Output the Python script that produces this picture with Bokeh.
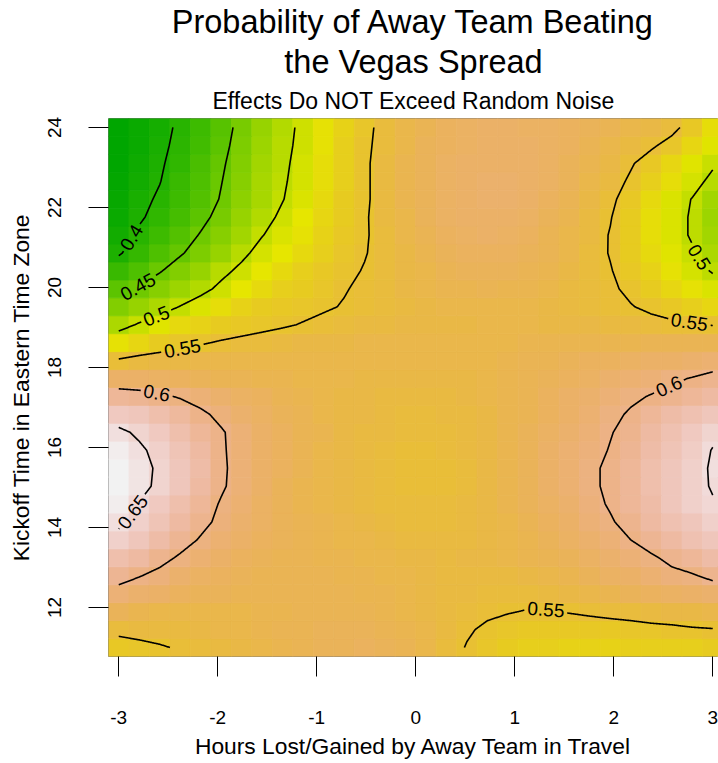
import math
import colorsys
import numpy as np
import contourpy
from bokeh.plotting import figure
from bokeh.models import Range1d, FixedTicker, Title, ColumnDataSource, LinearColorMapper
from bokeh.core.properties import value
from bokeh.embed import file_html
from bokeh.resources import INLINE

# ---------------- data ----------------
title_line1 = "Probability of Away Team Beating"
title_line2 = "the Vegas Spread"
subtitle = "Effects Do NOT Exceed Random Noise"
x_label = "Hours Lost/Gained by Away Team in Travel"
y_label = "Kickoff Time in Eastern Time Zone"

x_ticks = [-3, -2, -1, 0, 1, 2, 3]
x_tick_labels = ["-3", "-2", "-1", "0", "1", "2", "3"]
y_ticks = [12, 14, 16, 18, 20, 22, 24]
y_tick_labels = ["12", "14", "16", "18", "20", "22", "24"]

# grid: hours lost/gained (columns) and kickoff time (rows)
x_hours = [-3.0, -2.7931, -2.5862, -2.3793, -2.1724, -1.9655, -1.7586, -1.5517, -1.3448, -1.1379,
           -0.9310, -0.7241, -0.5172, -0.3103, -0.1034, 0.1034, 0.3103, 0.5172, 0.7241, 0.9310,
           1.1379, 1.3448, 1.5517, 1.7586, 1.9655, 2.1724, 2.3793, 2.5862, 2.7931, 3.0]
y_kickoff = [11.0, 11.4483, 11.8966, 12.3448, 12.7931, 13.2414, 13.6897, 14.1379, 14.5862, 15.0345,
             15.4828, 15.9310, 16.3793, 16.8276, 17.2759, 17.7241, 18.1724, 18.6207, 19.0690, 19.5172,
             19.9655, 20.4138, 20.8621, 21.3103, 21.7586, 22.2069, 22.6552, 23.1034, 23.5517, 24.0]

# probability (x1000); first row = 11:00 kickoff, columns follow x_hours
prob_rows = [
    [540, 544, 548, 552, 556, 559, 562, 565, 568, 571, 573, 575, 576, 575, 571, 565, 557, 549, 543, 539, 536, 534, 533, 533, 533, 534, 534, 535, 536, 537],
    [556, 558, 559, 560, 562, 564, 566, 568, 570, 572, 573, 574, 574, 572, 569, 564, 558, 552, 547, 543, 541, 540, 540, 541, 542, 543, 545, 546, 548, 549],
    [573, 569, 566, 564, 564, 565, 566, 568, 569, 571, 572, 572, 571, 569, 566, 562, 559, 555, 553, 551, 549, 549, 551, 553, 555, 557, 559, 561, 563, 566],
    [591, 587, 582, 578, 575, 573, 572, 571, 571, 571, 571, 570, 569, 567, 565, 562, 560, 558, 556, 556, 556, 558, 561, 565, 569, 573, 577, 581, 584, 587],
    [609, 601, 594, 587, 581, 577, 574, 572, 571, 570, 570, 569, 568, 566, 564, 562, 560, 559, 559, 560, 562, 565, 569, 574, 579, 584, 590, 595, 598, 605],
    [625, 617, 607, 597, 589, 583, 578, 575, 572, 570, 569, 568, 566, 564, 562, 561, 560, 561, 562, 564, 567, 571, 575, 580, 585, 591, 597, 605, 613, 620],
    [642, 632, 621, 609, 598, 589, 582, 577, 573, 570, 568, 566, 564, 562, 560, 559, 559, 560, 562, 565, 569, 574, 580, 587, 593, 600, 609, 618, 626, 633],
    [655, 642, 630, 618, 606, 595, 586, 579, 574, 570, 567, 564, 561, 559, 557, 557, 557, 559, 562, 566, 571, 577, 584, 591, 598, 607, 617, 626, 634, 641],
    [663, 649, 637, 625, 611, 598, 588, 580, 574, 569, 565, 562, 559, 557, 555, 555, 556, 558, 562, 567, 573, 580, 587, 594, 602, 612, 622, 632, 641, 648],
    [667, 657, 645, 632, 619, 603, 591, 582, 575, 569, 565, 561, 558, 555, 553, 553, 554, 557, 562, 568, 575, 583, 590, 596, 604, 613, 623, 633, 642, 652],
    [667, 658, 646, 633, 620, 604, 591, 583, 576, 570, 565, 561, 558, 555, 553, 553, 554, 557, 562, 568, 575, 583, 590, 596, 604, 613, 623, 633, 641, 653],
    [663, 654, 643, 630, 617, 603, 591, 583, 576, 570, 565, 561, 558, 556, 554, 554, 555, 558, 562, 568, 575, 582, 588, 594, 601, 610, 620, 630, 640, 651],
    [655, 646, 636, 625, 613, 602, 592, 584, 577, 572, 567, 563, 560, 558, 556, 556, 557, 559, 563, 568, 574, 580, 587, 593, 599, 606, 617, 628, 636, 645],
    [637, 632, 624, 615, 604, 595, 587, 580, 575, 570, 566, 563, 561, 559, 557, 557, 558, 560, 563, 567, 572, 578, 584, 590, 596, 602, 611, 620, 628, 634],
    [612, 609, 604, 598, 592, 586, 581, 576, 572, 568, 565, 563, 561, 560, 559, 559, 560, 562, 565, 568, 572, 577, 582, 587, 592, 597, 601, 605, 612, 619],
    [584, 583, 580, 577, 574, 572, 570, 568, 567, 566, 565, 564, 563, 562, 561, 561, 562, 563, 565, 567, 570, 573, 577, 581, 585, 589, 593, 597, 601, 606],
    [553, 558, 561, 563, 564, 565, 565, 566, 566, 566, 566, 566, 565, 565, 564, 564, 564, 565, 566, 568, 570, 572, 574, 576, 578, 580, 582, 584, 587, 590],
    [520, 530, 537, 543, 548, 552, 555, 557, 559, 561, 562, 563, 564, 564, 564, 564, 564, 564, 565, 566, 567, 567, 568, 568, 568, 569, 570, 570, 571, 571],
    [489, 503, 515, 525, 532, 537, 541, 545, 548, 551, 554, 556, 558, 560, 561, 562, 563, 563, 564, 564, 564, 563, 562, 561, 560, 558, 556, 554, 552, 549],
    [464, 476, 488, 501, 513, 523, 531, 537, 541, 545, 548, 551, 554, 557, 560, 562, 564, 565, 566, 565, 564, 562, 560, 557, 554, 551, 546, 540, 535, 530],
    [441, 453, 466, 479, 492, 506, 518, 527, 534, 539, 543, 549, 553, 557, 561, 564, 567, 569, 570, 569, 567, 564, 560, 556, 553, 546, 538, 530, 521, 512],
    [417, 433, 448, 463, 477, 493, 506, 518, 527, 534, 540, 546, 551, 556, 561, 566, 570, 573, 574, 573, 571, 567, 562, 557, 551, 542, 532, 521, 510, 498],
    [397, 414, 431, 447, 462, 477, 494, 509, 518, 527, 535, 543, 549, 556, 563, 569, 574, 577, 578, 578, 575, 570, 564, 557, 549, 538, 526, 514, 503, 487],
    [388, 405, 421, 436, 452, 467, 482, 499, 511, 521, 531, 540, 548, 557, 565, 572, 577, 580, 582, 581, 578, 572, 566, 558, 549, 537, 524, 511, 497, 481],
    [382, 396, 410, 425, 442, 459, 475, 491, 505, 517, 528, 538, 548, 558, 566, 574, 579, 582, 584, 584, 581, 575, 568, 560, 551, 537, 524, 511, 497, 479],
    [378, 392, 404, 419, 435, 452, 470, 486, 499, 513, 525, 537, 547, 558, 567, 575, 580, 584, 585, 585, 583, 578, 571, 562, 554, 541, 527, 513, 499, 483],
    [375, 386, 399, 416, 433, 449, 467, 484, 497, 510, 523, 535, 547, 558, 567, 575, 580, 583, 585, 585, 583, 579, 574, 566, 558, 547, 536, 523, 510, 493],
    [373, 383, 396, 412, 429, 446, 464, 481, 495, 509, 522, 535, 547, 558, 567, 574, 579, 582, 584, 584, 582, 579, 575, 569, 562, 552, 541, 529, 516, 504],
    [372, 381, 393, 408, 424, 442, 461, 478, 493, 507, 521, 534, 546, 557, 566, 573, 578, 581, 583, 583, 582, 580, 577, 572, 566, 560, 553, 543, 530, 514],
    [371, 380, 391, 405, 421, 439, 458, 475, 491, 506, 520, 533, 545, 556, 565, 572, 577, 580, 582, 582, 581, 579, 577, 574, 570, 566, 563, 556, 541, 523],
]

contour_levels = [0.40, 0.45, 0.50, 0.55, 0.60, 0.65]
# (label text, level, approximate spot on the line: hours, kickoff)
contour_label_spots = [
    ("0.4", 0.40, -2.859, 21.22),
    ("0.45", 0.45, -2.798, 19.97),
    ("0.5", 0.50, -2.606, 19.19),
    ("0.55", 0.55, -2.354, 18.42),
    ("0.6", 0.60, -2.616, 17.32),
    ("0.65", 0.65, -2.859, 14.38),
    ("0.55", 0.55, 1.313, 11.88),
    ("0.6", 0.60, 2.576, 17.45),
    ("0.55", 0.55, 2.758, 19.09),
    ("0.5", 0.50, 2.859, 20.74),
]

# ---------------- layout ----------------
FONT = "Liberation Sans"
W, H = 718, 763
MBL, MBR, MBT, MBB = 108, 0, 117, 107
PX_PER_HOUR = 99.0
LABEL_FS = 19.0

dx = x_hours[1] - x_hours[0]
dy = y_kickoff[1] - y_kickoff[0]
x_start = x_hours[0] - dx / 2
fw = W - MBL - MBR
fh = H - MBT - MBB
x_end = x_start + fw / PX_PER_HOUR
y_start = y_kickoff[0] - dy / 2
y_end = y_kickoff[-1] + dy / 2
sx = fw / (x_end - x_start)
sy = fh / (y_end - y_start)


def terrain_colors(n):
    k = n // 2
    cols = []
    h1 = np.linspace(4 / 12, 2 / 12, k)
    v1 = np.linspace(0.65, 0.9, k)
    for h, v in zip(h1, v1):
        cols.append(colorsys.hsv_to_rgb(h, 1.0, v))
    m = n - k + 1
    h2 = np.linspace(2 / 12, 0, m)[1:]
    s2 = np.linspace(1, 0, m)[1:]
    v2 = np.linspace(0.9, 0.95, m)[1:]
    for h, s, v in zip(h2, s2, v2):
        cols.append(colorsys.hsv_to_rgb(h, s, v))
    return ["#%02x%02x%02x" % tuple(int(round(c * 255)) for c in rgb) for rgb in cols]


palette = terrain_colors(100)

p = figure(width=W, height=H, output_backend="svg", toolbar_location=None,
           x_range=Range1d(x_start, x_end), y_range=Range1d(y_start, y_end),
           min_border_left=MBL, min_border_right=MBR, min_border_top=MBT, min_border_bottom=MBB,
           background_fill_color="white", border_fill_color="white",
           outline_line_color="#7a7a7a", outline_line_width=1, title_location=None)
p.xgrid.visible = False
p.ygrid.visible = False

# cells
cx, cy, cz = [], [], []
for j, row in enumerate(prob_rows):
    for i, v in enumerate(row):
        cx.append(x_hours[i])
        cy.append(y_kickoff[j])
        cz.append(v / 1000.0)
mapper = LinearColorMapper(palette=palette, low=min(cz), high=max(cz))
cells = ColumnDataSource(dict(x=cx, y=cy, z=cz))
p.rect("x", "y", width=dx, height=dy, source=cells,
       fill_color={"field": "z", "transform": mapper},
       line_color={"field": "z", "transform": mapper}, line_width=0.8)

# contours
Z = np.array(prob_rows, dtype=float) / 1000.0
XG, YG = np.meshgrid(np.array(x_hours), np.array(y_kickoff))
gen = contourpy.contour_generator(XG, YG, Z)


def to_px(pts):
    pts = np.asarray(pts, dtype=float)
    return np.column_stack([(pts[:, 0] - x_start) * sx, (pts[:, 1] - y_start) * sy])


dense = {}
keep = {}
for lev in contour_levels:
    dl = []
    for line in gen.lines(lev):
        P = to_px(line)
        if len(P) < 2:
            continue
        pts = [P[0]]
        for k in range(len(P) - 1):
            a, b = P[k], P[k + 1]
            n = max(1, int(math.ceil(math.hypot(*(b - a)) / 0.75)))
            for t in range(1, n + 1):
                pts.append(a + (b - a) * t / n)
        dl.append(np.array(pts))
    dense[lev] = dl
    keep[lev] = [np.ones(len(d), dtype=bool) for d in dl]

char_w = {".": 0.278}
lab_x, lab_y, lab_t, lab_a = [], [], [], []
for txt, lev, ax, ay in contour_label_spots:
    A = to_px([[ax, ay]])[0]
    best = None
    for li, D in enumerate(dense[lev]):
        d = np.hypot(D[:, 0] - A[0], D[:, 1] - A[1])
        k = int(np.argmin(d))
        if best is None or d[k] < best[0]:
            best = (d[k], li, k)
    if best is None:
        continue
    _, li, k = best
    D = dense[lev][li]
    Q = D[k]
    r = sum(char_w.get(c, 0.556) for c in txt) * LABEL_FS / 2 + 2.5
    dist = np.hypot(D[:, 0] - Q[0], D[:, 1] - Q[1])
    lo = k
    while lo > 0 and dist[lo - 1] <= r:
        lo -= 1
    hi = k
    while hi < len(D) - 1 and dist[hi + 1] <= r:
        hi += 1
    keep[lev][li][lo:hi + 1] = False
    P1, P2 = D[lo], D[hi]
    ang = math.atan2(P2[1] - P1[1], P2[0] - P1[0])
    if ang > math.pi / 2:
        ang -= math.pi
    elif ang < -math.pi / 2:
        ang += math.pi
    lab_x.append(Q[0] / sx + x_start)
    lab_y.append(Q[1] / sy + y_start)
    lab_t.append(txt)
    lab_a.append(ang)

seg_xs, seg_ys = [], []
for lev in contour_levels:
    for D, kp in zip(dense[lev], keep[lev]):
        start = None
        for idx in range(len(D) + 1):
            on = idx < len(D) and kp[idx]
            if on and start is None:
                start = idx
            elif not on and start is not None:
                if idx - start >= 2:
                    seg = D[start:idx]
                    seg_xs.append(list(seg[:, 0] / sx + x_start))
                    seg_ys.append(list(seg[:, 1] / sy + y_start))
                start = None

p.multi_line(xs=seg_xs, ys=seg_ys, line_color="black", line_width=1.6)

labels = ColumnDataSource(dict(x=lab_x, y=lab_y, text=lab_t, angle=lab_a))
p.text("x", "y", text="text", angle="angle", source=labels,
       text_align="center", text_baseline="middle",
       text_font=value(FONT), text_font_size="%gpx" % LABEL_FS, text_color="black")

# axes
for ax_, ticks, labs in ((p.xaxis, x_ticks, x_tick_labels), (p.yaxis, y_ticks, y_tick_labels)):
    ax_.ticker = FixedTicker(ticks=ticks)
    ax_.major_label_overrides = {t: l for t, l in zip(ticks, labs)}
    ax_.axis_line_color = None
    ax_.major_tick_out = 20
    ax_.major_tick_in = 0
    ax_.minor_tick_out = 0
    ax_.minor_tick_in = 0
    ax_.major_tick_line_color = "black"
    ax_.major_tick_line_width = 1
    ax_.major_label_text_font = FONT
    ax_.major_label_text_font_size = "19px"
    ax_.major_label_text_color = "black"
    ax_.axis_label_text_font = FONT
    ax_.axis_label_text_font_size = "22.8px"
    ax_.axis_label_text_font_style = "normal"
    ax_.axis_label_text_color = "black"

p.xaxis.axis_label = x_label
p.xaxis.major_label_standoff = 34
p.xaxis.axis_label_standoff = 6
p.yaxis.axis_label = y_label
p.yaxis.major_label_orientation = "parallel"
p.yaxis.major_label_standoff = 27
p.yaxis.axis_label_standoff = 12

# titles (first added sits closest to the plot)
p.add_layout(Title(text=subtitle, align="center", text_font=FONT, text_font_size="23px",
                   text_font_style="normal", text_color="black", standoff=8.5), "above")
p.add_layout(Title(text=title_line2, align="center", text_font=FONT, text_font_size="32.5px",
                   text_font_style="normal", text_color="black", standoff=2.5), "above")
p.add_layout(Title(text=title_line1, align="center", text_font=FONT, text_font_size="32.5px",
                   text_font_style="normal", text_color="black", standoff=2), "above")

open("out.html", "w").write(file_html(p, INLINE))
